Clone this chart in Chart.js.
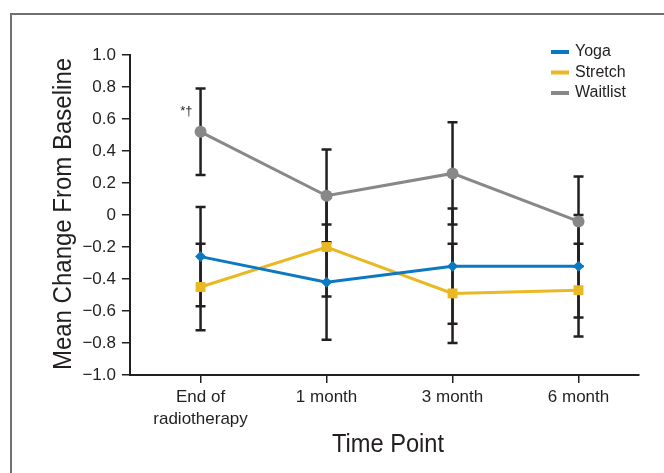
<!DOCTYPE html>
<html>
<head>
<meta charset="utf-8">
<script src="https://cdn.jsdelivr.net/npm/chart.js@4"></script>
<style>
  html, body { margin: 0; padding: 0; background: #fff; overflow: hidden; }
  #wrap { width: 664px; height: 473px; position: relative; }
</style>
</head>
<body>
<div id="wrap"><canvas id="myChart" width="664" height="473"></canvas></div>
<script>
// categories and values
const timePoints = [['End of', 'radiotherapy'], '1 month', '3 month', '6 month'];
const yoga = [-0.26, -0.42, -0.32, -0.32];
const yogaErr = [0.31, 0.36, 0.36, 0.32];
const stretch = [-0.45, -0.20, -0.49, -0.47];
const stretchErr = [0.27, 0.31, 0.31, 0.29];
const waitlist = [0.52, 0.12, 0.26, -0.04];
const waitlistErr = [0.27, 0.29, 0.32, 0.28];
const yTicks = [-1, -0.8, -0.6, -0.4, -0.2, 0, 0.2, 0.4, 0.6, 0.8, 1];
const xTitle = 'Time Point';
const yTitle = 'Mean Change From Baseline';

const BLUE = '#0a79c2';
const YELLOW = '#e9b823';
const GRAY = '#87888a';
const AXIS = '#231f20';
const FONT = "'Liberation Sans', Arial, sans-serif";

function points(arr, err) {
    return arr.map((v, i) => ({ x: i, y: v, err: err[i] }));
}

function fmt(v) {
    if (Math.abs(v) < 1e-9) return '0';
    return v.toFixed(1).replace('-', '\u2212');
}

// gray frame round the figure
const framePlugin = {
    id: 'frame',
    beforeDraw(chart) {
        const c = chart.ctx;
        c.save();
        c.strokeStyle = '#707070';
        c.lineWidth = 2;
        c.beginPath();
        c.moveTo(11, 480);
        c.lineTo(11, 14);
        c.lineTo(670, 14);
        c.stroke();
        c.restore();
    }
};

// black error bars under the lines
const errorBars = {
    id: 'errorBars',
    beforeDatasetsDraw(chart) {
        const c = chart.ctx;
        const xs = chart.scales.x, ys = chart.scales.y;
        c.save();
        c.strokeStyle = AXIS;
        c.lineWidth = 2.5;
        chart.data.datasets.forEach(ds => {
            ds.data.forEach(p => {
                const x = xs.getPixelForValue(p.x);
                const top = ys.getPixelForValue(p.y + p.err);
                const bot = ys.getPixelForValue(p.y - p.err);
                c.beginPath();
                c.moveTo(x, top);
                c.lineTo(x, bot);
                c.moveTo(x - 5, top);
                c.lineTo(x + 5, top);
                c.moveTo(x - 5, bot);
                c.lineTo(x + 5, bot);
                c.stroke();
            });
        });
        c.restore();
    }
};

// legend, significance mark and the narrow axis titles
const extras = {
    id: 'extras',
    afterDraw(chart) {
        const c = chart.ctx;
        c.save();
        c.font = '16px ' + FONT;
        c.textBaseline = 'middle';
        chart.data.datasets.forEach((ds, i) => {
            const y = 52 + i * 20.5;
            c.fillStyle = ds.borderColor;
            c.fillRect(551, y - 2, 18, 4);
            c.fillStyle = AXIS;
            c.fillText(ds.label, 575, y);
        });
        const xs = chart.scales.x, ys = chart.scales.y;
        c.font = '13px ' + FONT;
        c.textAlign = 'right';
        c.fillText('*\u2020', xs.getPixelForValue(0) - 8, ys.getPixelForValue(0.65));

        c.textAlign = 'center';
        c.font = '26px ' + FONT;
        c.save();
        c.translate(388, 445);
        c.scale(0.91, 1);
        c.fillText(xTitle, 0, 0);
        c.restore();

        c.font = '25px ' + FONT;
        c.save();
        c.translate(64, 214);
        c.rotate(-Math.PI / 2);
        c.scale(0.96, 1);
        c.fillText(yTitle, 0, 0);
        c.restore();
        c.restore();
    }
};

const ctx = document.getElementById('myChart');

new Chart(ctx, {
    type: 'line',
    data: {
        datasets: [{
            label: 'Yoga',
            data: points(yoga, yogaErr),
            borderColor: BLUE,
            backgroundColor: BLUE,
            borderWidth: 3,
            pointStyle: 'rectRot',
            pointRadius: 5.5,
            pointBorderWidth: 0
        }, {
            label: 'Stretch',
            data: points(stretch, stretchErr),
            borderColor: YELLOW,
            backgroundColor: YELLOW,
            borderWidth: 3,
            pointStyle: 'rect',
            pointRadius: 7,
            pointBorderWidth: 0
        }, {
            label: 'Waitlist',
            data: points(waitlist, waitlistErr),
            borderColor: GRAY,
            backgroundColor: GRAY,
            borderWidth: 3,
            pointStyle: 'circle',
            pointRadius: 6,
            pointBorderWidth: 0
        }]
    },
    options: {
        responsive: false,
        animation: false,
        layout: { padding: { left: 50, top: 55, right: 25, bottom: 0 } },
        plugins: {
            legend: { display: false },
            tooltip: { enabled: false }
        },
        scales: {
            x: {
                type: 'linear',
                min: -0.56,
                max: 3.48,
                afterBuildTicks: axis => {
                    axis.ticks = timePoints.map((t, i) => ({ value: i }));
                },
                afterFit: scale => { scale.height = 98; },
                grid: { drawOnChartArea: false, drawTicks: true, tickLength: 8, color: AXIS, lineWidth: 1.5 },
                border: { display: true, color: AXIS, width: 2 },
                ticks: {
                    autoSkip: false,
                    maxRotation: 0,
                    padding: 4,
                    color: AXIS,
                    font: { family: FONT, size: 17, lineHeight: 1.25 },
                    callback: v => timePoints[v]
                }
            },
            y: {
                min: -1,
                max: 1,
                afterBuildTicks: axis => {
                    axis.ticks = yTicks.map(v => ({ value: v }));
                },
                afterFit: scale => { scale.width = 80; },
                grid: { drawOnChartArea: false, drawTicks: true, tickLength: 8, color: AXIS, lineWidth: 1.5 },
                border: { display: true, color: AXIS, width: 2 },
                ticks: {
                    padding: 6,
                    color: AXIS,
                    font: { family: FONT, size: 17 },
                    callback: v => fmt(v)
                }
            }
        }
    },
    plugins: [framePlugin, errorBars, extras]
});
</script>
</body>
</html>
